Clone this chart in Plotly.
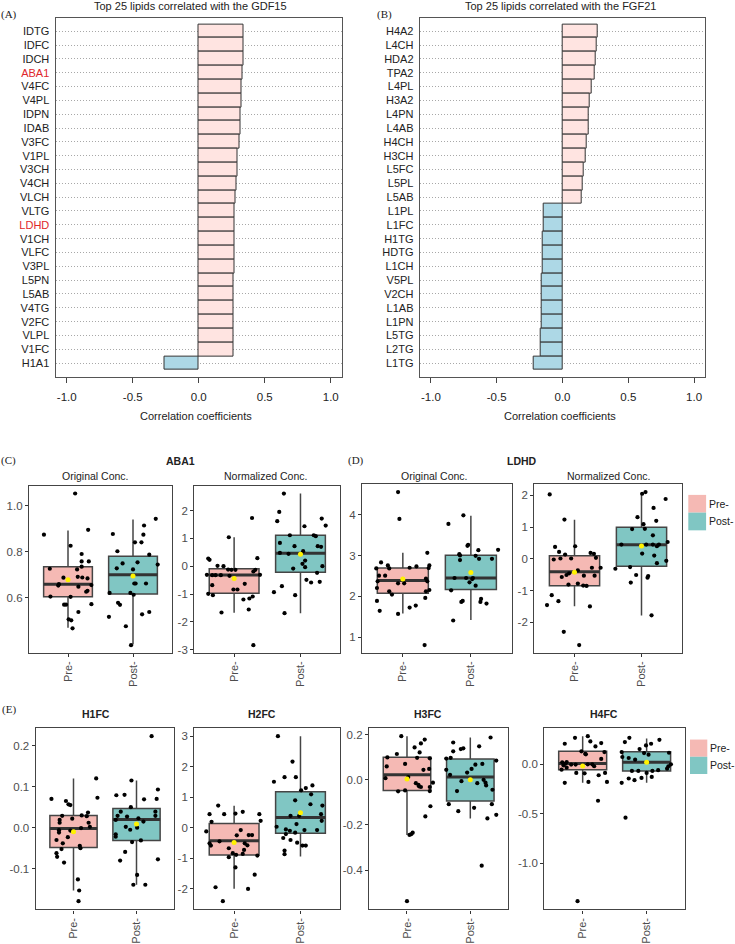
import plotly.graph_objects as go

# ------------------------------------------------------------------ data
gdf15_lipids = ["IDTG", "IDFC", "IDCH", "ABA1", "V4FC", "V4PL", "IDPN", "IDAB", "V3FC", "V1PL",
                "V3CH", "V4CH", "VLCH", "VLTG", "LDHD", "V1CH", "VLFC", "V3PL", "L5PN", "L5AB",
                "V4TG", "V2FC", "VLPL", "V1FC", "H1A1"]
gdf15_r = [0.340, 0.337, 0.337, 0.329, 0.322, 0.320, 0.317, 0.317, 0.307, 0.297,
           0.292, 0.284, 0.277, 0.274, 0.274, 0.272, 0.272, 0.269, 0.266, 0.266,
           0.262, 0.262, 0.262, 0.262, -0.257]

fgf21_lipids = ["H4A2", "L4CH", "HDA2", "TPA2", "L4PL", "H3A2", "L4PN", "L4AB", "H4CH", "H3CH",
                "L5FC", "L5PL", "L5AB", "L1PL", "L1FC", "H1TG", "HDTG", "L1CH", "V5PL", "V2CH",
                "L1AB", "L1PN", "L5TG", "L2TG", "L1TG"]
fgf21_r = [0.264, 0.259, 0.249, 0.241, 0.221, 0.203, 0.197, 0.197, 0.181, 0.176,
           0.158, 0.156, 0.143, -0.143, -0.143, -0.148, -0.151, -0.148, -0.156, -0.156,
           -0.156, -0.158, -0.168, -0.168, -0.219]

highlighted = ["ABA1", "LDHD"]
corr_ticks = [-1.0, -0.5, 0.0, 0.5, 1.0]
corr_tick_text = ["-1.0", "-0.5", "0.0", "0.5", "1.0"]

groups = ["Pre-", "Post-"]

# box stats: [lower whisker, Q1, median, Q3, upper whisker, mean]
# ---- ABA1 original concentration
aba1_orig_pre = [0.873, 1.052, 0.725, 0.825, 0.894, 0.789, 0.757, 0.757, 0.734, 0.722,
                 0.690, 0.687, 0.683, 0.686, 0.658, 0.652, 0.647, 0.629, 0.625, 0.654,
                 0.604, 0.603, 0.569, 0.569, 0.571, 0.537, 0.505, 0.501, 0.466]
aba1_orig_pre_jit = [-0.37, 0.11, -0.28, 0.04, 0.31, 0.21, 0.21, 0.32, 0.21, 0.14,
                     0.15, 0.22, 0.30, -0.07, -0.14, -0.15, 0.16, 0.30, 0.28, 0.36,
                     -0.27, 0.04, -0.06, -0.03, 0.36, 0.16, 0.01, 0.05, 0.07]
aba1_orig_post = [0.942, 0.913, 0.873, 0.876, 0.840, 0.840, 0.801, 0.786, 0.753, 0.748,
                  0.743, 0.727, 0.722, 0.661, 0.661, 0.661, 0.620, 0.620, 0.612, 0.577,
                  0.568, 0.516, 0.475, 0.527, 0.537, 0.393]
aba1_orig_post_jit = [0.35, 0.17, 0.16, -0.31, 0.03, 0.13, -0.24, 0.25, 0.07, -0.16,
                      0.38, -0.25, 0.0, 0.02, 0.04, 0.20, -0.36, -0.04, 0.01, -0.23,
                      -0.20, -0.37, -0.11, 0.14, 0.25, -0.03]
aba1_orig_pre_stats = [0.469, 0.603, 0.658, 0.734, 0.891, 0.677]
aba1_orig_post_stats = [0.396, 0.615, 0.699, 0.779, 0.939, 0.693]
aba1_orig_ticks = [0.6, 0.8, 1.0]
aba1_orig_tick_text = ["0.6", "0.8", "1.0"]

# ---- ABA1 normalized concentration
aba1_norm_pre = [0.275, 0.227, 0.012, 0.0, 1.04, 1.73, 0.287, -0.132, -0.191, -0.311,
                 -0.311, -0.323, -0.323, -0.323, -0.347, -0.120, -0.132, -0.132, -0.682, -0.837,
                 -0.837, -0.634, -0.993, -1.04, -1.196, -1.16, -1.089, -1.555, -1.663, -2.835]
aba1_norm_pre_jit = [-0.39, -0.37, -0.25, -0.16, -0.08, 0.27, 0.35, 0.32, 0.29, 0.39,
                     -0.41, -0.33, -0.28, -0.20, -0.07, -0.09, -0.04, 0.02, -0.33, -0.01,
                     0.05, 0.16, -0.39, -0.32, 0.14, 0.23, 0.28, 0.22, -0.19, 0.29]
aba1_norm_post = [2.608, 1.95, 1.615, 1.435, 1.711, 1.459, 1.112, 1.112, 1.077, 0.837,
                  0.718, 0.718, 0.694, 0.478, 0.443, 0.538, 0.203, -0.084, 0.084, -0.036,
                  0.0, -0.239, -0.490, -0.586, -0.562, -0.718, -0.933, -1.041, -1.687]
aba1_norm_post_jit = [-0.25, -0.32, -0.35, 0.06, 0.32, 0.38, -0.16, 0.20, 0.23, -0.31,
                      -0.09, 0.26, 0.31, -0.31, -0.18, 0.04, 0.07, -0.11, 0.03, 0.07,
                      0.33, 0.25, 0.09, 0.16, 0.29, -0.28, -0.40, -0.08, -0.24]
aba1_norm_pre_stats = [-1.67, -0.97, -0.32, -0.096, 1.04, -0.44]
aba1_norm_post_stats = [-1.69, -0.215, 0.467, 1.11, 2.61, 0.43]
aba1_norm_ticks = [-3, -2, -1, 0, 1, 2]
aba1_norm_tick_text = ["-3", "-2", "-1", "0", "1", "2"]

# ---- LDHD original concentration
ldhd_orig_pre = [4.562, 3.902, 2.835, 2.761, 2.688, 2.688, 2.704, 2.737, 3.071, 2.761,
                 2.696, 2.509, 2.509, 2.370, 2.321, 2.321, 2.435, 2.370, 2.207, 2.158,
                 2.126, 2.126, 2.044, 1.889, 1.645, 1.571, 1.726, 1.775, 1.963, 0.805]
ldhd_orig_pre_jit = [-0.07, -0.05, -0.32, -0.22, -0.20, -0.39, 0.10, 0.20, 0.36, 0.39,
                     0.38, -0.26, -0.35, -0.37, -0.07, 0.02, 0.34, 0.36, -0.38, 0.39,
                     0.34, -0.20, -0.16, -0.38, -0.34, -0.07, 0.10, 0.19, 0.33, 0.32]
ldhd_orig_post = [3.992, 3.780, 3.267, 3.242, 3.038, 3.006, 3.136, 2.924, 2.924, 2.998,
                  3.144, 2.892, 2.452, 2.452, 2.427, 2.346, 2.264, 2.452, 2.150, 1.889,
                  1.865, 1.938, 1.865, 1.824, 1.408]
ldhd_orig_post_jit = [-0.11, -0.33, -0.04, -0.05, -0.17, -0.16, 0.11, 0.12, 0.31, 0.07,
                      0.40, -0.16, -0.24, -0.07, 0.02, -0.02, 0.07, 0.03, -0.29, -0.12,
                      -0.14, 0.15, 0.14, 0.23, -0.26]
ldhd_orig_pre_stats = [1.58, 2.08, 2.39, 2.70, 3.07, 2.43]
ldhd_orig_post_stats = [1.42, 2.17, 2.45, 3.01, 3.98, 2.59]
ldhd_orig_ticks = [1, 2, 3, 4]
ldhd_orig_tick_text = ["1", "2", "3", "4"]

# ---- LDHD normalized concentration
ldhd_norm_pre = [2.026, 1.236, 0.395, 0.374, 0.218, -0.021, 0.010, 0.135, 0.010, 0.187,
                 0.156, 0.031, -0.281, -0.281, -0.364, -0.457, -0.509, -0.571, -0.530, -0.530,
                 -0.810, -0.842, -0.852, -0.779, -1.143, -1.330, -1.455, -1.496, -2.296, -2.712]
ldhd_norm_pre_jit = [-0.37, -0.15, 0.01, -0.29, -0.23, -0.31, -0.21, -0.14, -0.05, 0.24,
                     0.29, 0.32, 0.39, 0.26, 0.05, -0.08, -0.12, -0.19, 0.14, 0.30,
                     -0.09, 0.13, 0.18, 0.05, -0.34, -0.24, -0.41, 0.23, -0.16, 0.07]
ldhd_norm_post = [2.047, 2.099, 1.881, 1.600, 1.309, 1.195, 1.091, 0.945, 0.935, 0.738,
                  0.447, 0.447, 0.447, 0.447, 0.395, 0.530, 0.166, 0.104, -0.062, -0.135,
                  -0.260, -0.509, -0.540, -0.592, -0.312, -0.748, -1.777]
ldhd_norm_post_jit = [0.01, 0.06, 0.36, 0.18, -0.06, 0.22, 0.03, 0.05, -0.14, 0.17,
                      -0.30, 0.17, 0.07, 0.26, 0.23, 0.39, 0.01, 0.19, 0.37, 0.23,
                      -0.17, -0.08, 0.10, 0.09, -0.39, -0.16, 0.15]
ldhd_norm_pre_stats = [-1.49, -0.85, -0.405, 0.10, 1.23, -0.42]
ldhd_norm_post_stats = [-1.78, -0.23, 0.44, 0.99, 2.06, 0.405]
ldhd_norm_ticks = [-2, -1, 0, 1, 2]
ldhd_norm_tick_text = ["-2", "-1", "0", "1", "2"]

# ---- H1FC
h1fc_pre = [0.070, 0.065, 0.057, 0.055, 0.029, 0.019, 0.012, 0.120, 0.073, 0.037,
            0.030, 0.028, 0.012, 0.002, 0.022, -0.001, -0.006, -0.012, -0.030, -0.038,
            -0.023, -0.007, -0.044, -0.050, -0.052, -0.062, -0.071, -0.085, -0.126, -0.153, -0.179]
h1fc_pre_jit = [-0.35, -0.12, -0.08, -0.05, -0.18, -0.22, -0.22, 0.36, 0.38, 0.23,
                0.13, 0.21, 0.24, 0.26, -0.02, 0.12, -0.23, -0.23, -0.27, -0.17,
                -0.09, -0.05, 0.10, 0.11, -0.19, -0.27, -0.26, -0.15, 0.07, 0.09, 0.08]
h1fc_post = [0.223, 0.115, 0.079, 0.080, 0.069, 0.093, 0.070, 0.050, 0.039, 0.029,
             0.027, 0.023, 0.015, 0.039, 0.029, 0.019, -0.016, -0.022, 0.002, 0.0,
             -0.005, -0.035, -0.031, -0.059, -0.080, -0.077, -0.115, -0.139, -0.139]
h1fc_post_jit = [0.24, -0.08, -0.32, -0.19, 0.12, 0.34, 0.32, -0.09, -0.25, -0.30,
                 -0.15, 0.03, 0.11, 0.30, 0.30, -0.33, -0.33, -0.33, -0.17, 0.01,
                 -0.10, -0.07, 0.07, -0.18, -0.26, 0.34, 0.01, -0.05, 0.14]
h1fc_pre_stats = [-0.153, -0.048, -0.002, 0.030, 0.120, -0.010]
h1fc_post_stats = [-0.139, -0.031, 0.020, 0.047, 0.115, 0.009]
h1fc_ticks = [-0.1, 0.0, 0.1, 0.2]
h1fc_tick_text = ["-0.1", "0.0", "0.1", "0.2"]

# ---- H2FC
h2fc_pre = [0.727, 0.445, 0.445, 0.466, 0.521, 0.445, 0.228, 0.195, -0.119, -0.510,
            -0.445, -0.586, -0.672, -0.076, -0.249, -0.239, -0.239, -0.510, -0.575, -0.727,
            -0.857, -0.835, -0.889, -0.911, -0.965, -1.302, -1.540, -1.952, -2.007, -2.408]
h2fc_pre_jit = [-0.24, -0.37, -0.15, 0.02, 0.13, 0.38, 0.40, -0.34, -0.42, -0.37,
                -0.22, -0.35, -0.08, 0.10, 0.04, 0.22, 0.27, 0.16, 0.20, 0.15,
                0.13, -0.02, 0.03, 0.35, -0.08, 0.02, 0.31, -0.28, 0.21, -0.17]
h2fc_post = [3.004, 2.169, 1.659, 1.659, 1.508, 1.388, 1.302, 1.226, 1.095, 0.900,
             0.727, 0.770, 0.390, 0.390, 0.445, 0.033, -0.076, -0.054, -0.098, 0.119,
             0.228, -0.076, -0.206, -0.163, -0.336, -0.401, -0.488, -0.586, -0.748, -0.868, -0.586]
h2fc_post_jit = [-0.34, -0.12, -0.24, -0.07, -0.40, 0.18, 0.08, 0.01, 0.16, -0.08,
                 0.33, 0.15, -0.15, -0.02, 0.31, -0.36, 0.25, -0.22, -0.16, -0.06,
                 0.32, 0.06, -0.22, -0.08, -0.26, -0.15, -0.05, 0.08, -0.24, -0.24, 0.03]
h2fc_pre_stats = [-2.0, -0.89, -0.43, 0.14, 0.72, -0.48]
h2fc_post_stats = [-0.94, -0.18, 0.34, 1.18, 3.0, 0.49]
h2fc_ticks = [-2, -1, 0, 1, 2, 3]
h2fc_tick_text = ["-2", "-1", "0", "1", "2", "3"]

# ---- H3FC
h3fc_pre = [0.193, 0.143, 0.161, 0.178, 0.121, 0.114, 0.097, 0.099, 0.059, 0.095,
            0.070, 0.044, 0.048, 0.007, 0.012, -0.015, -0.022, -0.029, -0.032, -0.013,
            -0.032, -0.050, -0.051, -0.047, -0.117, -0.162, -0.244, -0.240, -0.234, -0.537]
h3fc_pre_jit = [-0.09, 0.12, 0.22, 0.28, 0.20, -0.16, 0.16, -0.31, -0.32, 0.36,
                -0.03, 0.26, 0.35, -0.34, 0.02, 0.14, 0.18, 0.19, 0.22, 0.41,
                0.36, 0.36, -0.14, -0.03, 0.37, 0.29, 0.04, 0.07, 0.09, 0.0]
h3fc_post = [0.165, 0.187, 0.136, 0.139, 0.148, 0.126, 0.097, 0.094, 0.085, 0.070,
             0.067, 0.044, 0.032, 0.048, 0.022, -0.006, -0.015, 0.0, -0.013, -0.025,
             -0.050, -0.044, -0.108, -0.139, -0.124, -0.108, -0.171, -0.155, -0.380]
h3fc_post_jit = [-0.27, 0.32, -0.15, -0.11, 0.14, -0.27, -0.31, -0.38, 0.41, 0.19,
                 0.08, -0.38, -0.05, 0.02, -0.32, -0.14, 0.11, 0.21, 0.24, 0.25,
                 -0.21, 0.35, -0.34, -0.19, 0.06, 0.34, 0.27, 0.41, 0.18]
h3fc_pre_stats = [-0.244, -0.047, 0.022, 0.0995, 0.193, 0.004]
h3fc_post_stats = [-0.171, -0.094, 0.012, 0.092, 0.187, 0.0]
h3fc_ticks = [-0.4, -0.2, 0.0, 0.2]
h3fc_tick_text = ["-0.4", "-0.2", "0.0", "0.2"]

# ---- H4FC
h4fc_pre = [0.268, 0.285, 0.208, 0.232, 0.215, 0.181, 0.131, 0.107, 0.101, 0.124,
            0.054, 0.020, 0.023, 0.007, -0.003, -0.003, -0.010, 0.0, 0.0, -0.020,
            -0.034, -0.087, -0.054, -0.091, -0.087, -0.111, -0.188, -0.178, -0.178, -0.369, -1.386]
h4fc_pre_jit = [-0.12, 0.08, -0.28, 0.12, 0.29, 0.20, -0.02, 0.04, 0.05, 0.34,
                0.29, -0.32, -0.25, -0.27, -0.18, -0.11, -0.30, 0.08, 0.15, 0.18,
                -0.25, -0.10, -0.33, 0.03, 0.35, 0.25, -0.28, 0.09, 0.38, 0.24, -0.08]
h4fc_post = [0.268, 0.225, 0.154, 0.248, 0.191, 0.208, 0.114, 0.124, 0.074, 0.064,
             0.047, 0.097, 0.117, 0.0, -0.020, -0.044, -0.060, -0.067, -0.067, -0.087,
             -0.067, -0.144, -0.161, -0.138, -0.128, -0.188, -0.540]
h4fc_post_jit = [-0.27, -0.34, -0.11, 0.20, -0.01, 0.07, -0.04, -0.39, -0.38, -0.28,
                 -0.18, 0.03, 0.35, 0.38, 0.34, 0.32, 0.18, -0.23, -0.13, 0.0,
                 0.09, -0.28, -0.19, -0.08, 0.08, -0.39, -0.33]
h4fc_pre_stats = [-0.188, -0.054, 0.007, 0.131, 0.285, -0.017]
h4fc_post_stats = [-0.188, -0.067, 0.020, 0.128, 0.262, 0.020]
h4fc_ticks = [-1.0, -0.5, 0.0]
h4fc_tick_text = ["-1.0", "-0.5", "0.0"]

# ------------------------------------------------------------------ styling
W, H = 735, 944
FONT = "Liberation Sans, Arial, sans-serif"
SERIF = "Liberation Serif, Times New Roman, serif"
POS_BAR = "#FFE4E1"
NEG_BAR = "#ADD8E6"
PINK = "#F5B9B4"
TEAL = "#80C6C3"
BOX_LINE = "#454545"
TICK_GREY = "#4D4D4D"


def px(x):
    return x / W


def py(y):
    return 1 - y / H


fig = go.Figure()
layout = dict(width=W, height=H, margin=dict(l=0, r=0, t=0, b=0), autosize=False,
              paper_bgcolor="white", plot_bgcolor="white", showlegend=False,
              bargap=0, font=dict(family=FONT, size=11, color="#222"))
annotations = []
shapes = []


def ann(text, x, y, size=11, color="#222", family=FONT, xanchor="center"):
    annotations.append(dict(text=text, x=px(x), y=py(y), xref="paper", yref="paper",
                            showarrow=False, xanchor=xanchor, yanchor="middle",
                            borderpad=0, font=dict(size=size, color=color, family=family)))


# ------------------------------------------------------------------ bar panels
def bar_panel(k, names, vals, box):
    x0, x1, y0, y1 = box
    colors = [POS_BAR if v > 0 else NEG_BAR for v in vals]
    fig.add_trace(go.Bar(x=vals, y=names, orientation="h", xaxis=f"x{k}", yaxis=f"y{k}",
                         marker=dict(color=colors, line=dict(color="#333", width=1)),
                         hoverinfo="x+y"))
    ticktext = [f'<span style="color:#E0262B">{n}</span>' if n in highlighted else n for n in names]
    xs = "xaxis" if k == 1 else f"xaxis{k}"
    ys = "yaxis" if k == 1 else f"yaxis{k}"
    layout[xs] = dict(domain=[px(x0), px(x1)], anchor=f"y{k}", range=[-1.085, 1.085],
                      tickvals=corr_ticks, ticktext=corr_tick_text, ticks="outside",
                      ticklen=5, tickcolor="#444", showline=True, mirror=True,
                      linecolor="#555", linewidth=1, showgrid=False, zeroline=False,
                      tickfont=dict(size=11.5, color="#222"), ticklabelstandoff=5)
    layout[ys] = dict(domain=[py(y1), py(y0)], anchor=f"x{k}", type="category",
                      categoryorder="array", categoryarray=names, range=[24.98, -0.98],
                      tickvals=names, ticktext=ticktext, ticks="outside", ticklen=3,
                      tickcolor="rgba(0,0,0,0)", showline=True, mirror=True,
                      linecolor="#555", linewidth=1, showgrid=True, gridcolor="#A8A8A8",
                      griddash="1px,2px", gridwidth=1, tickfont=dict(size=11, color="#222"))


bar_panel(1, gdf15_lipids, gdf15_r, (55.5, 342, 17.7, 378.3))
bar_panel(2, fgf21_lipids, fgf21_r, (419.7, 705.3, 17.7, 378.3))

ann("Top 25 lipids correlated with the GDF15", 190, 6, size=11)
ann("Top 25 lipids correlated with the FGF21", 560, 6, size=11)
ann("(A)", 8.5, 15, size=11, family=SERIF)
ann("(B)", 384, 15, size=11, family=SERIF)
ann("Correlation coefficients", 196, 418, size=11)
ann("Correlation coefficients", 559.5, 418, size=11)


# ------------------------------------------------------------------ box panels
def box_panel(k, pre, pre_jit, post, post_jit, pre_stats, post_stats, ticks, tick_text, box):
    x0, x1, y0, y1 = box
    xa, ya = f"x{k}", f"y{k}"
    allv = pre + post + pre_stats[:5] + post_stats[:5]
    lo, hi = min(allv), max(allv)
    span = hi - lo
    for pos, vals, jit, stats, col in ((1, pre, pre_jit, pre_stats, PINK),
                                       (2, post, post_jit, post_stats, TEAL)):
        wlo, q1, med, q3, whi, mean = stats
        fig.add_trace(go.Box(x=[pos], q1=[q1], median=[med], q3=[q3], lowerfence=[wlo],
                             upperfence=[whi], width=0.75, fillcolor=col,
                             line=dict(color=BOX_LINE, width=1.5), whiskerwidth=0,
                             boxpoints=False, xaxis=xa, yaxis=ya, hoverinfo="skip"))
        fig.add_trace(go.Scatter(x=[pos - 0.375, pos + 0.375], y=[med, med], mode="lines",
                                 line=dict(color="#333", width=3), xaxis=xa, yaxis=ya,
                                 hoverinfo="skip"))
        fig.add_trace(go.Scatter(x=[pos + j for j in jit], y=vals, mode="markers",
                                 marker=dict(color="black", size=4.2), xaxis=xa, yaxis=ya))
        fig.add_trace(go.Scatter(x=[pos], y=[mean], mode="markers",
                                 marker=dict(color="#FFF200", size=5), xaxis=xa, yaxis=ya))
    layout[f"xaxis{k}"] = dict(domain=[px(x0), px(x1)], anchor=ya, range=[0.4, 2.6],
                               tickvals=[1, 2], ticktext=groups, tickangle=-90,
                               ticks="outside", ticklen=3, tickcolor="#333", showline=True,
                               mirror=True, linecolor="#444", linewidth=1.3, showgrid=False,
                               zeroline=False, tickfont=dict(size=11, color=TICK_GREY))
    layout[f"yaxis{k}"] = dict(domain=[py(y1), py(y0)], anchor=xa,
                               range=[lo - 0.05 * span, hi + 0.05 * span],
                               tickvals=ticks, ticktext=tick_text, ticks="outside", ticklen=3,
                               tickcolor="#333", showline=True, mirror=True, linecolor="#444",
                               linewidth=1.3, showgrid=False, zeroline=False,
                               tickfont=dict(size=11.5, color=TICK_GREY))


box_panel(3, aba1_orig_pre, aba1_orig_pre_jit, aba1_orig_post, aba1_orig_post_jit,
          aba1_orig_pre_stats, aba1_orig_post_stats, aba1_orig_ticks, aba1_orig_tick_text,
          (29, 172, 488, 655.5))
box_panel(4, aba1_norm_pre, aba1_norm_pre_jit, aba1_norm_post, aba1_norm_post_jit,
          aba1_norm_pre_stats, aba1_norm_post_stats, aba1_norm_ticks, aba1_norm_tick_text,
          (194.3, 340.3, 488, 655.5))
box_panel(5, ldhd_orig_pre, ldhd_orig_pre_jit, ldhd_orig_post, ldhd_orig_post_jit,
          ldhd_orig_pre_stats, ldhd_orig_post_stats, ldhd_orig_ticks, ldhd_orig_tick_text,
          (362, 511.7, 486.5, 655.5))
box_panel(6, ldhd_norm_pre, ldhd_norm_pre_jit, ldhd_norm_post, ldhd_norm_post_jit,
          ldhd_norm_pre_stats, ldhd_norm_post_stats, ldhd_norm_ticks, ldhd_norm_tick_text,
          (534.3, 681.7, 486.5, 655.5))
box_panel(7, h1fc_pre, h1fc_pre_jit, h1fc_post, h1fc_post_jit, h1fc_pre_stats,
          h1fc_post_stats, h1fc_ticks, h1fc_tick_text, (35.7, 174.3, 731, 913.3))
box_panel(8, h2fc_pre, h2fc_pre_jit, h2fc_post, h2fc_post_jit, h2fc_pre_stats,
          h2fc_post_stats, h2fc_ticks, h2fc_tick_text, (194.3, 340.3, 731, 913.3))
box_panel(9, h3fc_pre, h3fc_pre_jit, h3fc_post, h3fc_post_jit, h3fc_pre_stats,
          h3fc_post_stats, h3fc_ticks, h3fc_tick_text, (369, 508.3, 731, 913.3))
box_panel(10, h4fc_pre, h4fc_pre_jit, h4fc_post, h4fc_post_jit, h4fc_pre_stats,
          h4fc_post_stats, h4fc_ticks, h4fc_tick_text, (544.3, 685, 731, 913.3))

ann("(C)", 8.5, 462.7, size=11, family=SERIF)
ann("<b>ABA1</b>", 180, 462.7, size=10.5)
ann("(D)", 356, 462.7, size=11, family=SERIF)
ann("<b>LDHD</b>", 521.7, 462.7, size=10.5)
ann("Original Conc.", 95, 478, size=10.5)
ann("Normalized Conc.", 265, 478, size=10.5)
ann("Original Conc.", 434, 478, size=10.5)
ann("Normalized Conc.", 608, 478, size=10.5)
ann("(E)", 8.5, 713, size=11, family=SERIF)
ann("<b>H1FC</b>", 96, 717.5, size=10.5)
ann("<b>H2FC</b>", 262, 717.5, size=10.5)
ann("<b>H3FC</b>", 428, 717.5, size=10.5)
ann("<b>H4FC</b>", 604, 717.5, size=10.5)


# ------------------------------------------------------------------ legends
def legend(x0, y0, size):
    for i, (g, col) in enumerate(zip(groups, (PINK, TEAL))):
        top = y0 + i * size
        shapes.append(dict(type="rect", xref="paper", yref="paper", x0=px(x0),
                           x1=px(x0 + size), y0=py(top + size), y1=py(top),
                           fillcolor=col, line=dict(width=0)))
        ann(g, x0 + size + 2, top + size / 2, size=10.5, color="#222", xanchor="left")


legend(688.3, 497, 17.8)
legend(690, 742.7, 17.3)

layout["annotations"] = annotations
layout["shapes"] = shapes
fig.update_layout(**layout)
fig.write_html("out.html")
